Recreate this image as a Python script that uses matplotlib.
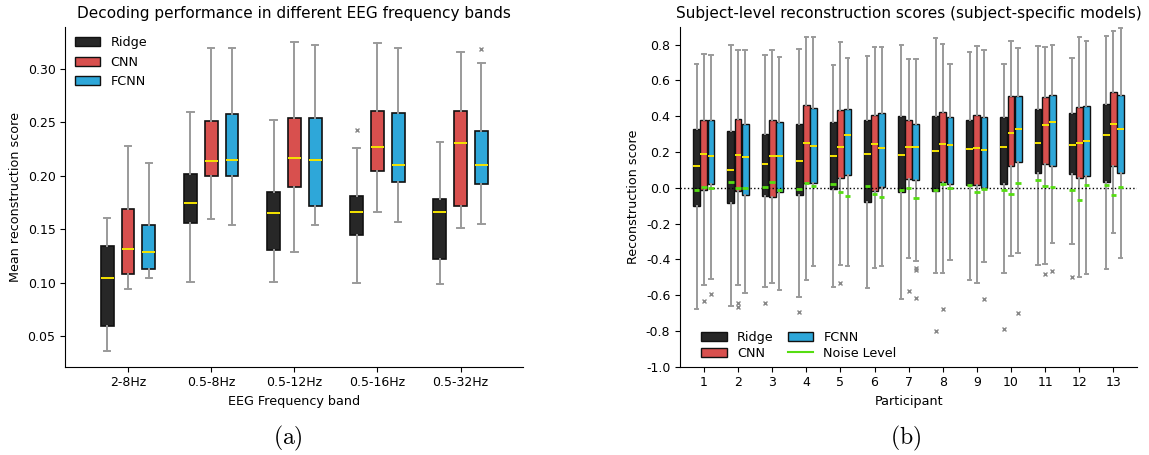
import matplotlib
matplotlib.use("Agg")
import matplotlib.pyplot as plt
from matplotlib.patches import Patch
from matplotlib.lines import Line2D

plt.rcParams['mathtext.fontset'] = 'cm'

models = ["Ridge", "CNN", "FCNN"]
colors = {"Ridge": "#272727", "CNN": "#d8504e", "FCNN": "#2ea7d9"}

# ---------------- Panel (a) data ----------------
bands = ["2-8Hz", "0.5-8Hz", "0.5-12Hz", "0.5-16Hz", "0.5-32Hz"]
# each entry: (whislo, q1, med, q3, whishi)
a_ridge = [(0.036, 0.060, 0.104, 0.134, 0.161),
           (0.101, 0.156, 0.175, 0.202, 0.260),
           (0.101, 0.131, 0.165, 0.185, 0.252),
           (0.100, 0.145, 0.166, 0.181, 0.226),
           (0.099, 0.122, 0.166, 0.178, 0.232)]
a_cnn = [(0.094, 0.108, 0.132, 0.169, 0.228),
         (0.160, 0.200, 0.214, 0.251, 0.320),
         (0.129, 0.190, 0.217, 0.254, 0.325),
         (0.166, 0.205, 0.227, 0.261, 0.324),
         (0.151, 0.172, 0.231, 0.261, 0.316)]
a_fcnn = [(0.104, 0.113, 0.129, 0.154, 0.212),
          (0.154, 0.200, 0.215, 0.258, 0.320),
          (0.154, 0.172, 0.215, 0.254, 0.322),
          (0.157, 0.194, 0.210, 0.259, 0.320),
          (0.155, 0.192, 0.210, 0.242, 0.306)]
a_ridge_fliers = [[], [], [], [0.2425], []]
a_cnn_fliers = [[], [], [], [], []]
a_fcnn_fliers = [[], [], [], [], [0.319]]

# ---------------- Panel (b) data ----------------
participants = [str(i) for i in range(1, 14)]
b_ridge = [(-0.676, -0.102, 0.119, 0.330, 0.693),
           (-0.663, -0.083, 0.100, 0.317, 0.800),
           (-0.552, -0.048, 0.135, 0.300, 0.743),
           (-0.611, -0.041, 0.148, 0.354, 0.778),
           (-0.552, -0.006, 0.180, 0.370, 0.685),
           (-0.561, -0.078, 0.189, 0.381, 0.735),
           (-0.624, -0.024, 0.183, 0.400, 0.798),
           (-0.478, -0.019, 0.204, 0.402, 0.839),
           (-0.517, 0.017, 0.215, 0.381, 0.757),
           (-0.474, 0.022, 0.228, 0.394, 0.694),
           (-0.433, 0.080, 0.248, 0.439, 0.791),
           (-0.317, 0.078, 0.239, 0.420, 0.726),
           (-0.456, 0.033, 0.294, 0.470, 0.850)]
b_cnn = [(-0.541, -0.013, 0.189, 0.376, 0.750),
         (-0.546, -0.020, 0.185, 0.383, 0.767),
         (-0.531, -0.050, 0.180, 0.376, 0.767),
         (-0.513, 0.028, 0.248, 0.461, 0.843),
         (-0.431, 0.054, 0.228, 0.435, 0.817),
         (-0.448, -0.020, 0.243, 0.407, 0.785),
         (-0.394, 0.048, 0.228, 0.376, 0.717),
         (-0.474, 0.033, 0.244, 0.426, 0.802),
         (-0.533, 0.017, 0.224, 0.406, 0.791),
         (-0.380, 0.124, 0.306, 0.515, 0.820),
         (-0.426, 0.131, 0.352, 0.507, 0.785),
         (-0.496, 0.056, 0.250, 0.452, 0.844),
         (-0.252, 0.120, 0.359, 0.535, 0.876)]
b_fcnn = [(-0.509, 0.020, 0.178, 0.381, 0.743),
          (-0.587, -0.041, 0.174, 0.357, 0.770),
          (-0.572, -0.022, 0.180, 0.365, 0.728),
          (-0.439, 0.028, 0.235, 0.448, 0.843),
          (-0.439, 0.069, 0.296, 0.441, 0.726),
          (-0.439, 0.006, 0.224, 0.419, 0.785),
          (-0.411, 0.041, 0.226, 0.357, 0.717),
          (-0.404, 0.020, 0.241, 0.396, 0.689),
          (-0.417, -0.004, 0.211, 0.398, 0.772),
          (-0.363, 0.143, 0.330, 0.511, 0.780),
          (-0.306, 0.124, 0.365, 0.517, 0.798),
          (-0.483, 0.063, 0.263, 0.459, 0.822),
          (-0.394, 0.080, 0.326, 0.520, 0.894)]
b_ridge_fliers = [[], [], [-0.646], [-0.694], [], [], [], [-0.798], [], [-0.789], [], [-0.500], []]
b_cnn_fliers = [[-0.633], [-0.646, -0.665], [], [], [-0.533], [], [-0.578], [-0.678], [], [], [-0.480], [], []]
b_fcnn_fliers = [[-0.591], [], [], [], [], [], [-0.448, -0.457, -0.617], [], [-0.619], [-0.700], [-0.467], [], []]
b_noise_ridge = [-0.013, 0.030, 0.006, -0.009, 0.020, 0.011, -0.013, -0.013, 0.017, -0.015, 0.043, -0.015, 0.015]
b_noise_cnn = [0.006, 0.000, 0.031, 0.028, -0.024, -0.033, -0.004, 0.019, -0.024, -0.033, 0.011, -0.069, -0.039]
b_noise_fcnn = [0.000, 0.000, -0.013, 0.009, -0.044, -0.050, -0.056, -0.004, -0.007, 0.026, 0.006, 0.015, 0.004]

FS = 9.2
TKS = 9.0
TFS = 11.0


def make_stats(vals, fliers):
    out = []
    for (lo, q1, med, q3, hi), fl in zip(vals, fliers):
        out.append(dict(whislo=lo, q1=q1, med=med, q3=q3, whishi=hi, fliers=fl))
    return out


def draw(ax, stats, positions, width, color, lw_box=1.2):
    ax.bxp(stats, positions=positions, widths=width, patch_artist=True,
           showfliers=True, manage_ticks=False,
           boxprops=dict(facecolor=color, edgecolor="#111111", linewidth=lw_box),
           medianprops=dict(color="#f5e400", linewidth=1.4),
           whiskerprops=dict(color="#9a9a9a", linewidth=1.4),
           capprops=dict(color="#9a9a9a", linewidth=1.4),
           flierprops=dict(marker="x", markersize=3, markeredgecolor="#888888",
                           markeredgewidth=1.0, linestyle="none"),
           zorder=2)


W, H = 1149, 455
fig = plt.figure(figsize=(W / 100, H / 100), dpi=100)
TOP, BOT = 26.7, 366.7

# ---------------- Panel (a) ----------------
axa = fig.add_axes([65.3 / W, 1 - BOT / H, (523.3 - 65.3) / W, (BOT - TOP) / H])
xa = list(range(1, len(bands) + 1))
offs_a = [-0.25, 0.0, 0.25]
for m, off, vals, fl in zip(models, offs_a, [a_ridge, a_cnn, a_fcnn],
                            [a_ridge_fliers, a_cnn_fliers, a_fcnn_fliers]):
    draw(axa, make_stats(vals, fl), [x + off for x in xa], 0.155, colors[m])
axa.set_xticks(xa)
axa.set_xticklabels(bands)
axa.set_xlim(0.245, 5.755)
axa.set_ylim(0.0215, 0.3395)
axa.set_yticks([0.05, 0.10, 0.15, 0.20, 0.25, 0.30])
axa.set_title("Decoding performance in different EEG frequency bands", fontsize=TFS)
axa.set_xlabel("EEG Frequency band", fontsize=FS)
axa.set_ylabel("Mean reconstruction score", fontsize=FS)
handles_a = [Patch(facecolor=colors[m], edgecolor="#111111", label=m) for m in models]
axa.legend(handles=handles_a, loc="upper left", frameon=False, fontsize=FS,
           borderaxespad=0.35)

# ---------------- Panel (b) ----------------
axb = fig.add_axes([680 / W, 1 - BOT / H, (1137.3 - 680) / W, (BOT - TOP) / H])
xb = list(range(1, len(participants) + 1))
offs_b = [-0.21, 0.0, 0.21]
wb = 0.2
for m, off, vals, fl, nz in zip(models, offs_b, [b_ridge, b_cnn, b_fcnn],
                                [b_ridge_fliers, b_cnn_fliers, b_fcnn_fliers],
                                [b_noise_ridge, b_noise_cnn, b_noise_fcnn]):
    pos = [x + off for x in xb]
    draw(axb, make_stats(vals, fl), pos, wb, colors[m], lw_box=1.0)
    axb.hlines(nz, [p - 0.08 for p in pos], [p + 0.08 for p in pos],
               colors="#55dd11", linewidth=2.0, zorder=4)
axb.axhline(0, color="black", linestyle=":", linewidth=1.0, zorder=3)
axb.set_xticks(xb)
axb.set_xticklabels(participants)
axb.set_xlim(0.3, 13.7)
axb.set_ylim(-1.0, 0.9)
yt = [-1.0, -0.8, -0.6, -0.4, -0.2, 0.0, 0.2, 0.4, 0.6, 0.8]
axb.set_yticks(yt)
axb.set_yticklabels([f"{v:.1f}" for v in yt])
axb.set_title("Subject-level reconstruction scores (subject-specific models)", fontsize=TFS)
axb.set_xlabel("Participant", fontsize=FS)
axb.set_ylabel("Reconstruction score", fontsize=FS)
handles_b = [Patch(facecolor=colors[m], edgecolor="#111111", label=m) for m in models]
handles_b.append(Line2D([0], [0], color="#55dd11", linewidth=1.5, label="Noise Level"))
axb.legend(handles=handles_b, loc="lower left", ncol=2, frameon=False, fontsize=FS,
           columnspacing=1.1, labelspacing=0.2, borderaxespad=0.0,
           bbox_to_anchor=(0.035, 0.005))

for ax in (axa, axb):
    ax.spines["top"].set_visible(False)
    ax.spines["right"].set_visible(False)
    ax.tick_params(labelsize=TKS)

fig.text(288 / W, 1 - 438 / H, r"$\mathrm{(a)}$", ha="center", va="center", fontsize=17)
fig.text(906 / W, 1 - 438 / H, r"$\mathrm{(b)}$", ha="center", va="center", fontsize=17)

fig.savefig("out.png", dpi=100)
